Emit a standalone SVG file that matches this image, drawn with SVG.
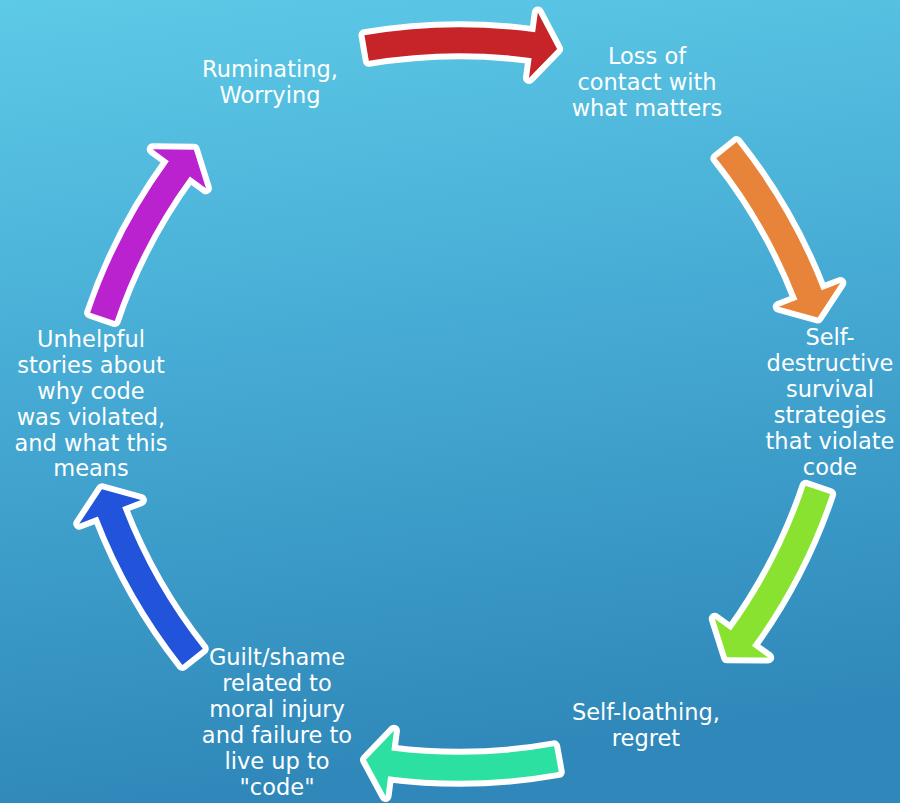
<svg xmlns="http://www.w3.org/2000/svg" xmlns:xlink="http://www.w3.org/1999/xlink" width="900" height="803" viewBox="0 0 900 803">
  <defs>
    <linearGradient id="bg" x1="0" y1="0" x2="0.15" y2="1">
      <stop offset="0" stop-color="#5DCAE7"/>
      <stop offset="0.5" stop-color="#45A9D3"/>
      <stop offset="1" stop-color="#2F88B9"/>
    </linearGradient>
    <path id="arrow" d="M368.30,-97.47 A563,563 0 0 1 372.02,73.20 L391.85,75.80 L355.50,95.22 L326.41,67.22 L346.24,69.82 A537,537 0 0 0 342.69,-92.97 Z"/>
  </defs>
  <style>
    .outline { fill: #FFFFFF; stroke: #FFFFFF; stroke-width: 12; stroke-linejoin: round; }
    .lbl { font-family: "DejaVu Sans", "Liberation Sans", sans-serif; font-size: 22.5px; fill: #FFFFFF; text-anchor: middle; }
  </style>
  <rect x="0" y="0" width="900" height="803" fill="url(#bg)"/>
  <g id="connectors" transform="translate(460 404)">
    <g transform="rotate(-89.7)"><use xlink:href="#arrow" href="#arrow" class="outline"/><use xlink:href="#arrow" href="#arrow" fill="#C62428"/></g>
    <g transform="rotate(-28.6)"><use xlink:href="#arrow" href="#arrow" class="outline"/><use xlink:href="#arrow" href="#arrow" fill="#E8833A"/></g>
    <g transform="rotate(28.5)"><use xlink:href="#arrow" href="#arrow" class="outline"/><use xlink:href="#arrow" href="#arrow" fill="#8AE230"/></g>
    <g transform="rotate(89.8)"><use xlink:href="#arrow" href="#arrow" class="outline"/><use xlink:href="#arrow" href="#arrow" fill="#2BE0A0"/></g>
    <g transform="rotate(151.6)"><use xlink:href="#arrow" href="#arrow" class="outline"/><use xlink:href="#arrow" href="#arrow" fill="#2253DB"/></g>
    <g transform="rotate(208.7)"><use xlink:href="#arrow" href="#arrow" class="outline"/><use xlink:href="#arrow" href="#arrow" fill="#BB22CF"/></g>
  </g>
  <g id="node-ruminating">
    <text class="lbl" x="270" y="77">Ruminating,</text>
    <text class="lbl" x="270" y="103">Worrying</text>
  </g>
  <g id="node-loss">
    <text class="lbl" x="647" y="64">Loss of</text>
    <text class="lbl" x="647" y="90">contact with</text>
    <text class="lbl" x="647" y="116">what matters</text>
  </g>
  <g id="node-selfdestructive">
    <text class="lbl" x="830" y="345">Self-</text>
    <text class="lbl" x="830" y="371">destructive</text>
    <text class="lbl" x="830" y="397">survival</text>
    <text class="lbl" x="830" y="423">strategies</text>
    <text class="lbl" x="830" y="449">that violate</text>
    <text class="lbl" x="830" y="475">code</text>
  </g>
  <g id="node-selfloathing">
    <text class="lbl" x="646" y="720">Self-loathing,</text>
    <text class="lbl" x="646" y="746">regret</text>
  </g>
  <g id="node-guilt">
    <text class="lbl" x="277" y="665">Guilt/shame</text>
    <text class="lbl" x="277" y="691">related to</text>
    <text class="lbl" x="277" y="717">moral injury</text>
    <text class="lbl" x="277" y="743">and failure to</text>
    <text class="lbl" x="277" y="769">live up to</text>
    <text class="lbl" x="277" y="795">"code"</text>
  </g>
  <g id="node-unhelpful">
    <text class="lbl" x="91" y="347">Unhelpful</text>
    <text class="lbl" x="91" y="373">stories about</text>
    <text class="lbl" x="91" y="399">why code</text>
    <text class="lbl" x="91" y="425">was violated,</text>
    <text class="lbl" x="91" y="451">and what this</text>
    <text class="lbl" x="91" y="476">means</text>
  </g>
</svg>
